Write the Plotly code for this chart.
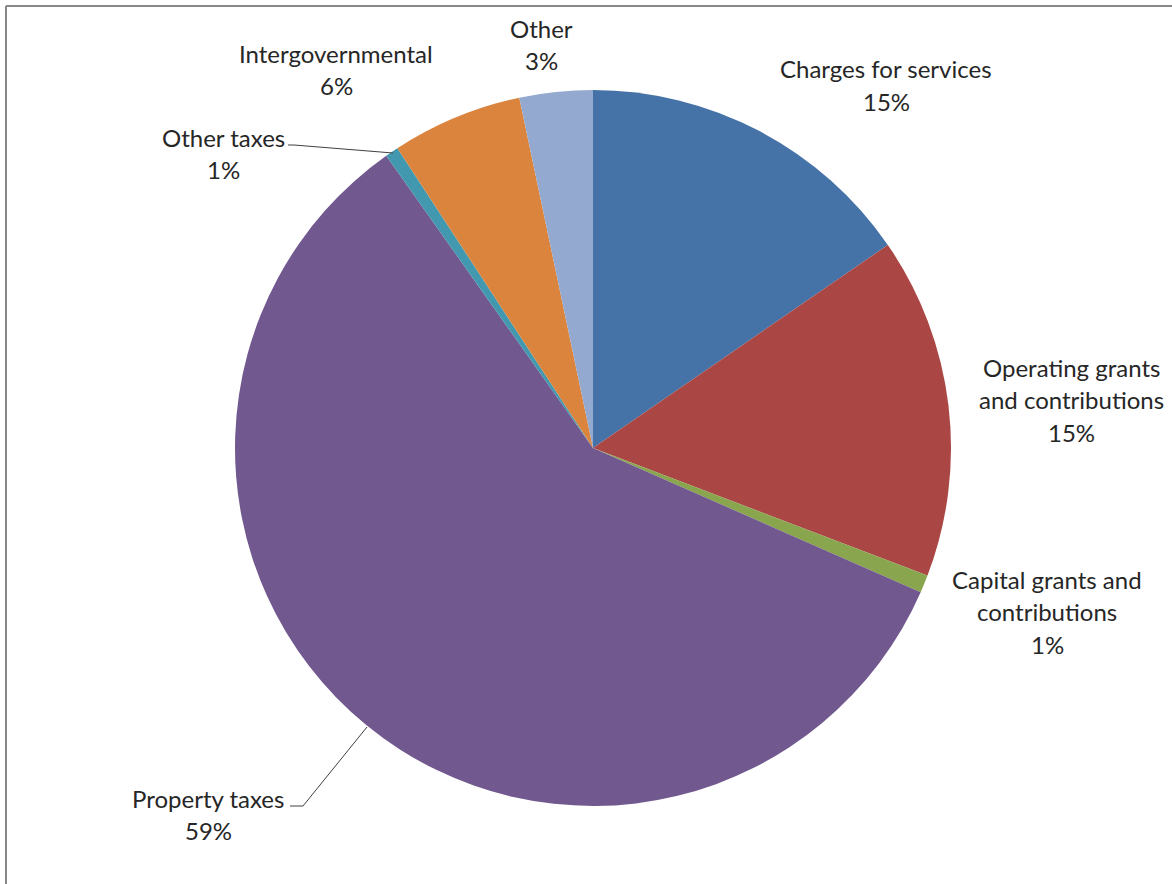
import plotly.graph_objects as go

# Revenue sources (share of total, percent)
categories = [
    "Charges for services",
    "Operating grants and contributions",
    "Capital grants and contributions",
    "Property taxes",
    "Other taxes",
    "Intergovernmental",
    "Other",
]
shares = [15.4, 15.4, 0.8, 58.6, 0.6, 5.9, 3.3]
colors = ["#4572A7", "#AA4643", "#89A54E", "#71588F", "#4198AF", "#DB843D", "#93A9CF"]

# How each label is broken into lines
label_lines = [
    ["Charges for services"],
    ["Operating grants", "and contributions"],
    ["Capital grants and", "contributions"],
    ["Property taxes"],
    ["Other taxes"],
    ["Intergovernmental"],
    ["Other"],
]

W, H = 1172, 884
cx, cy, r = 593, 448, 358


def px(x):
    return x / W


def py(y):
    return 1 - y / H


fig = go.Figure(
    go.Pie(
        labels=categories,
        values=shares,
        sort=False,
        direction="clockwise",
        rotation=0,
        marker=dict(colors=colors, line=dict(width=0)),
        textinfo="none",
        hoverinfo="label+percent",
        showlegend=False,
        domain=dict(x=[px(cx - r), px(cx + r)], y=[py(cy + r), py(cy - r)]),
    )
)

# Label anchor points (centre of the first text line)
label_pos = [
    (886, 69),
    (1071, 367),
    (1047, 579),
    (208, 798),
    (223, 137),
    (336, 53),
    (541, 28),
]

total = sum(shares)
line_h = 32.5
font = dict(family="Lato, Carlito, Calibri, sans-serif", size=24, color="#262626")
for lines, val, (x, y) in zip(label_lines, shares, label_pos):
    pct = f"{round(val / total * 100)}%"
    all_lines = lines + [pct]
    for i, t in enumerate(all_lines):
        fig.add_annotation(
            x=px(x), y=py(y + i * line_h), xref="paper", yref="paper",
            text=t, showarrow=False, font=font,
            xanchor="center", yanchor="middle",
        )

# Leader lines for the small / far labels
leader = dict(color="#404040", width=1)
fig.add_shape(type="path", xref="paper", yref="paper",
              path=f"M {px(288)} {py(145)} L {px(294)} {py(145)} L {px(393)} {py(153)}",
              line=leader)
fig.add_shape(type="path", xref="paper", yref="paper",
              path=f"M {px(290)} {py(806)} L {px(303)} {py(806)} L {px(367)} {py(727)}",
              line=leader)

# Chart frame (left and top edges)
frame = dict(color="#888888", width=2)
fig.add_shape(type="line", xref="paper", yref="paper",
              x0=px(6), y0=py(6), x1=px(6), y1=0, line=frame)
fig.add_shape(type="line", xref="paper", yref="paper",
              x0=px(6), y0=py(6), x1=1, y1=py(6), line=frame)

fig.update_layout(
    width=W, height=H,
    margin=dict(l=0, r=0, t=0, b=0),
    paper_bgcolor="white",
    plot_bgcolor="white",
)

fig.write_html("out.html")
